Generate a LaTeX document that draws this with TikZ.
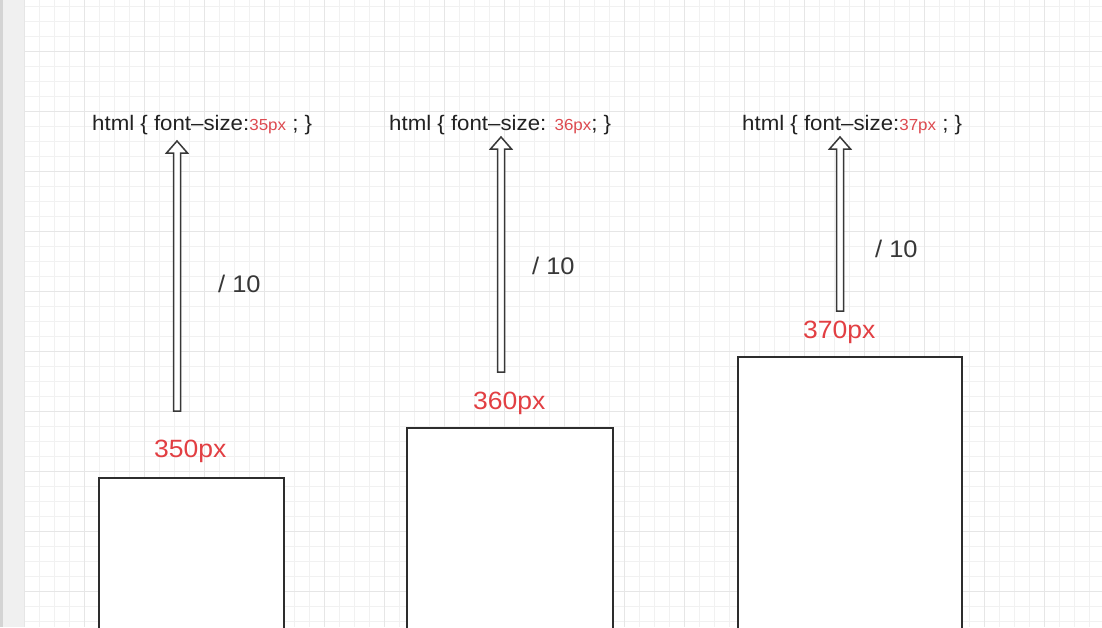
\documentclass[tikz,border=0pt]{standalone}
\usepackage{fontspec}
\setmainfont[FakeStretch=1.06]{Liberation Sans}
\usetikzlibrary{calc}
\definecolor{gridminor}{HTML}{F1F1F1}
\definecolor{gridmajor}{HTML}{E6E6E6}
\definecolor{leftbar}{HTML}{F0F0F0}
\definecolor{leftedge}{HTML}{D4D4D4}
\definecolor{ink}{HTML}{222222}
\definecolor{redtxt}{HTML}{E23F43}
\definecolor{redsmall}{HTML}{DD4A50}
\tikzset{
  codetext/.style={font=\fontsize{21}{24}\selectfont, text=ink, inner sep=0pt, anchor=base west},
  divtext/.style={font=\fontsize{24}{28}\selectfont, text=ink!90, inner sep=0pt, anchor=base west},
  pxtext/.style={font=\fontsize{25}{30}\selectfont, text=redtxt, inner sep=0pt, anchor=base west},
  blockarrow/.style={draw=ink!90, line width=1.5pt, fill=white, line join=miter},
  boxshape/.style={draw=ink!95, line width=2pt, fill=white},
}
\newcommand{\smallred}[1]{{\color{redsmall}\fontsize{16}{18}\selectfont #1}}
\newcommand{\hollowarrow}[2]{%
  \draw[blockarrow] ($(#1)+(-3.5,0)$) -- ($(#2)+(-3.5,12)$) -- ($(#2)+(-10.5,12)$) -- (#2)
    -- ($(#2)+(10.5,12)$) -- ($(#2)+(3.5,12)$) -- ($(#1)+(3.5,0)$) -- cycle;}
\begin{document}
\begin{tikzpicture}[x=1pt,y=-1pt]
\useasboundingbox (0,0) rectangle (1102,627);
\begin{scope}
\clip (0,0) rectangle (1102,627);
\fill[white] (0,0) rectangle (1102,627);
\fill[leftbar] (0,0) rectangle (24,627);
\fill[leftedge] (0,0) rectangle (3,627);
\foreach \x in {24,39,...,1102} \draw[gridminor, line width=0.9pt] (\x,0) -- (\x,627);
\foreach \y in {6,21,...,627} \draw[gridminor, line width=0.9pt] (24,\y) -- (1102,\y);
\foreach \x in {24,84,...,1102} \draw[gridmajor, line width=0.9pt] (\x,0) -- (\x,627);
\foreach \y in {51,111,...,627} \draw[gridmajor, line width=0.9pt] (24,\y) -- (1102,\y);

% boxes
\draw[boxshape] (99,478) rectangle (284,700);
\draw[boxshape] (407,428) rectangle (613,700);
\draw[boxshape] (738,357) rectangle (962,700);
\end{scope}

% top code labels
\node[codetext] (h1) at (92,130) {html \{ font–size:\smallred{35px} ; \}};
\node[codetext] (h2) at (389,130) {html \{ font–size: \smallred{36px}; \}};
\node[codetext] (h3) at (742,130) {html \{ font–size:\smallred{37px} ; \}};

% division labels
\node[divtext] (d1) at (218,292) {/ 10};
\node[divtext] (d2) at (532,274) {/ 10};
\node[divtext] (d3) at (875,257) {/ 10};

% px labels
\node[pxtext] (p1) at (154,457) {350px};
\node[pxtext] (p2) at (473,409) {360px};
\node[pxtext] (p3) at (803,338) {370px};

% arrows
\coordinate (a1s) at (177,411); \coordinate (a1t) at (177,141);
\coordinate (a2s) at (501,372); \coordinate (a2t) at (501,137);
\coordinate (a3s) at (840,311); \coordinate (a3t) at (840,137);
\hollowarrow{a1s}{a1t}
\hollowarrow{a2s}{a2t}
\hollowarrow{a3s}{a3t}
\end{tikzpicture}
\end{document}
